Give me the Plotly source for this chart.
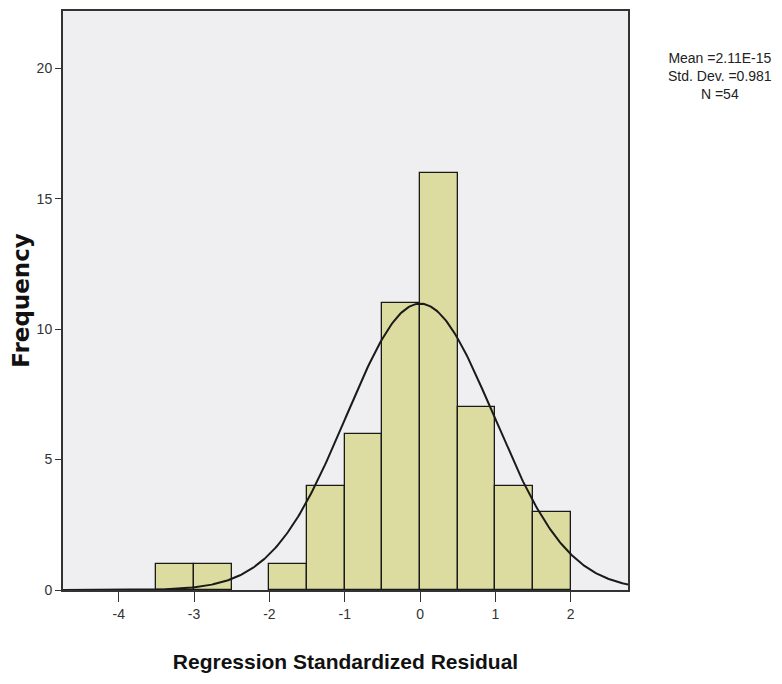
import numpy as np
import plotly.graph_objects as go

bin_starts = [-3.5, -3.0, -2.0, -1.5, -1.0, -0.5, 0.0, 0.5, 1.0, 1.5]
frequencies = [1, 1, 1, 4, 6, 11, 16, 7, 4, 3]
bin_width = 0.5
mean_val = 2.11e-15
std_val = 0.981
n_val = 54
x_ticks = [-4, -3, -2, -1, 0, 1, 2]
y_ticks = [0, 5, 10, 15, 20]
stats_text = ["Mean =2.11E-15", "Std. Dev. =0.981", "N =54"]

centers = [b + bin_width / 2 for b in bin_starts]

x_min, x_max = -4.74, 2.76
xs = np.linspace(x_min, x_max, 400)
curve = n_val * bin_width / (std_val * np.sqrt(2 * np.pi)) * np.exp(-0.5 * ((xs - mean_val) / std_val) ** 2)

W, H = 774, 676
L, R, T, B = 55, 154, 1, 94

sans = "Liberation Sans, Arial, sans-serif"

fig = go.Figure()
fig.add_trace(go.Bar(
    x=centers, y=frequencies, width=bin_width,
    marker=dict(color="#dcdca0", line=dict(color="#1a1a1a", width=1.3)),
    hoverinfo="x+y", showlegend=False,
))
fig.add_trace(go.Scatter(
    x=xs, y=curve, mode="lines",
    line=dict(color="#1a1a1a", width=2), showlegend=False, hoverinfo="skip",
))

plot_w = W - L - R
plot_h = H - T - B

fig.update_layout(
    width=W, height=H,
    margin=dict(l=L, r=R, t=T, b=B),
    paper_bgcolor="white",
    plot_bgcolor="#efeff1",
    bargap=0,
    font=dict(family=sans, color="#222"),
    xaxis=dict(
        range=[x_min, x_max], tickvals=x_ticks, ticktext=[str(v) for v in x_ticks],
        ticks="outside", ticklen=10, tickwidth=1, tickcolor="#333",
        showgrid=False, zeroline=False,
        showline=True, linecolor="#333", linewidth=2, mirror=True,
        tickfont=dict(size=14, color="#333"),
        title=dict(text="<b>Regression Standardized Residual</b>",
                   font=dict(size=21, color="#111"), standoff=34),
    ),
    yaxis=dict(
        range=[0, 22.2], tickvals=y_ticks, ticktext=[str(v) for v in y_ticks],
        ticks="outside", ticklen=6, tickwidth=1, tickcolor="#333",
        showgrid=False, zeroline=False,
        showline=True, linecolor="#333", linewidth=2, mirror=True,
        tickfont=dict(size=14, color="#333"),
        title=dict(text="<b>Frequency</b>", font=dict(size=23, color="#111",
                   family="DejaVu Sans, Verdana, sans-serif"), standoff=8),
    ),
    annotations=[dict(
        x=(712 - L) / plot_w, y=(H - B - 66) / plot_h,
        xref="paper", yref="paper", showarrow=False,
        xanchor="center", yanchor="middle",
        text="<br>".join(stats_text),
        font=dict(size=14, color="#222"), align="center",
    )],
)

fig.write_html("out.html")
